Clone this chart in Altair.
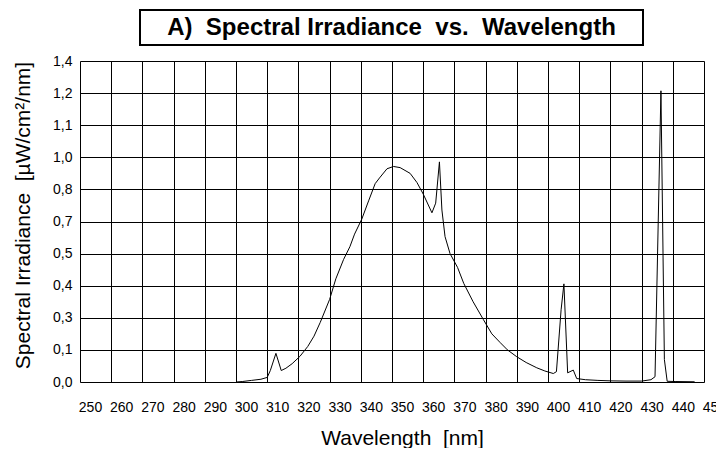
import altair as alt
import pandas as pd

# Wavelength [nm] and spectral irradiance [µW/cm²/nm]
wavelength = [300, 302, 305, 308, 310, 311, 312.8, 314.5, 316, 318, 320.5, 323, 325, 327,
              330, 332, 334.5, 336.5, 338, 340.3, 342.5, 344.6, 346, 348.4, 350.5, 352.6,
              355.8, 358, 360, 362.8, 364, 365.2, 366, 367, 368.6, 371, 373, 376, 379.3,
              382, 384.6, 387, 390, 393, 396.4, 399, 401.7, 402.7, 404.2, 405.1, 406.3,
              408.1, 409.2, 412, 416, 420, 425, 430, 433, 434.3, 436.2, 437.3, 438.2,
              441, 447]
irradiance = [0.0, 0.002, 0.007, 0.012, 0.02, 0.05, 0.125, 0.05, 0.06, 0.08, 0.112, 0.155,
              0.2, 0.26, 0.36, 0.45, 0.535, 0.59, 0.645, 0.71, 0.79, 0.865, 0.89, 0.93,
              0.94, 0.935, 0.91, 0.87, 0.82, 0.738, 0.78, 0.96, 0.75, 0.634, 0.56, 0.50,
              0.43, 0.35, 0.272, 0.21, 0.173, 0.14, 0.11, 0.085, 0.062, 0.048, 0.037,
              0.045, 0.315, 0.428, 0.04, 0.052, 0.015, 0.01, 0.007, 0.005, 0.004, 0.004,
              0.01, 0.023, 1.27, 0.098, 0.003, 0.002, 0.001]

x_ticks = list(range(250, 451, 10))
y_ticks = [round(i * 0.14, 2) for i in range(11)]
y_tick_labels = ["0,0", "0,1", "0,3", "0,4", "0,5", "0,7", "0,8", "1,0", "1,1", "1,2", "1,4"]

NB = "\u00a0"
title_text = "A)" + NB * 2 + "Spectral Irradiance" + NB * 2 + "vs." + NB * 2 + "Wavelength"
x_title = "Wavelength" + NB * 2 + "[nm]"
y_title = "Spectral Irradiance" + NB + " [µW/cm²/nm]"

df = pd.DataFrame({"wl": wavelength, "irr": irradiance})

label_arr = "[" + ",".join("'" + s + "'" for s in y_tick_labels) + "]"

FONT = "Liberation Sans"

line = alt.Chart(df).mark_line(color="black", strokeWidth=1).encode(
    x=alt.X("wl:Q",
            scale=alt.Scale(domain=[250, 450], nice=False, zero=False),
            axis=alt.Axis(values=x_ticks, title=x_title, grid=True, gridColor="black",
                          gridOpacity=1, gridWidth=1, ticks=False, domain=False,
                          labelFont=FONT, labelFontSize=14, labelColor="black",
                          labelPadding=18, labelOffset=10, labelOverlap=False,
                          labelFlush=False,
                          titleFont=FONT, titleFontSize=21, titleFontWeight="normal",
                          titleColor="black", titleX=322, titleY=62,
                          titleBaseline="alphabetic", titleAlign="center")),
    y=alt.Y("irr:Q",
            scale=alt.Scale(domain=[0, 1.4], nice=False),
            axis=alt.Axis(values=y_ticks, title=y_title, grid=True, gridColor="black",
                          gridOpacity=1, gridWidth=1, ticks=False, domain=False,
                          labelFont=FONT, labelFontSize=14, labelColor="black",
                          labelPadding=8, labelOverlap=False, labelFlush=False,
                          labelExpr=label_arr + "[round(datum.value/0.14)]",
                          titleFont=FONT, titleFontSize=21, titleFontWeight="normal",
                          titleColor="black", titleX=-51, titleY=154,
                          titleBaseline="alphabetic", titleAlign="center",
                          titleAngle=270)),
)

box = alt.Chart(pd.DataFrame({"k": [0]})).mark_rect(
    fill="white", stroke="black", strokeWidth=2
).encode(x=alt.value(60), x2=alt.value(563), y=alt.value(-51), y2=alt.value(-16))

title = alt.Chart(pd.DataFrame({"t": [title_text]})).mark_text(
    font=FONT, fontSize=24, fontWeight="bold", color="black",
    align="center", baseline="middle"
).encode(x=alt.value(311.5), y=alt.value(-33), text="t:N")

chart = alt.layer(line, box, title).properties(
    width=624, height=321,
    autosize=alt.AutoSizeParams(type="none"),
    padding={"left": 72, "top": 53, "right": 12, "bottom": 66},
).configure_view(stroke="black", strokeWidth=1.5).configure(background="white")

chart.save("out.html", embed_options={"renderer": "svg", "actions": False})
